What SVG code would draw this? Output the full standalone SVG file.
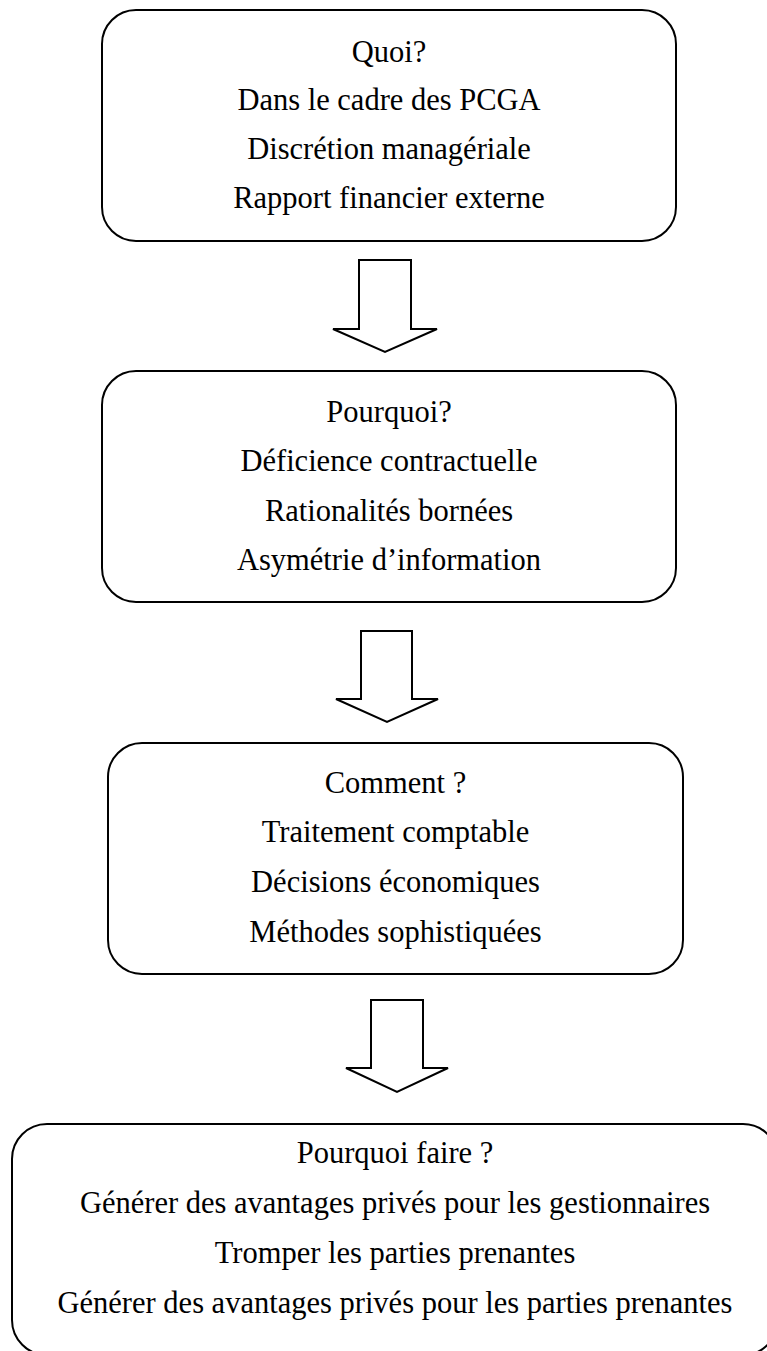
<svg xmlns="http://www.w3.org/2000/svg" width="767" height="1351" viewBox="0 0 767 1351">
  <style>
    .box { fill: #ffffff; stroke: #000000; stroke-width: 2; }
    .arrow { fill: #ffffff; stroke: #000000; stroke-width: 2; stroke-linejoin: miter; }
    .label { font-family: "Liberation Serif", "Times New Roman", serif; font-size: 30.5px; fill: #000000; text-anchor: middle; }
  </style>
  <rect x="0" y="0" width="767" height="1351" fill="#ffffff"/>

  <g id="node-quoi">
    <rect class="box" x="102" y="10" width="574" height="231" rx="34" ry="34"/>
    <text class="label" x="389" y="62">Quoi?</text>
    <text class="label" x="389" y="110">Dans le cadre des PCGA</text>
    <text class="label" x="389" y="159">Discrétion managériale</text>
    <text class="label" x="389" y="208">Rapport financier externe</text>
  </g>

  <g id="node-pourquoi">
    <rect class="box" x="102" y="371" width="574" height="231" rx="34" ry="34"/>
    <text class="label" x="389" y="422">Pourquoi?</text>
    <text class="label" x="389" y="471">Déficience contractuelle</text>
    <text class="label" x="389" y="521">Rationalités bornées</text>
    <text class="label" x="389" y="570">Asymétrie d’information</text>
  </g>

  <g id="node-comment">
    <rect class="box" x="108" y="743" width="575" height="231" rx="34" ry="34"/>
    <text class="label" x="395.5" y="793">Comment ?</text>
    <text class="label" x="395.5" y="842">Traitement comptable</text>
    <text class="label" x="395.5" y="892">Décisions économiques</text>
    <text class="label" x="395.5" y="942">Méthodes sophistiquées</text>
  </g>

  <g id="node-pourquoi-faire">
    <rect class="box" x="12" y="1124" width="766" height="231" rx="35" ry="35"/>
    <text class="label" x="395" y="1163">Pourquoi faire ?</text>
    <text class="label" x="395" y="1213">Générer des avantages privés pour les gestionnaires</text>
    <text class="label" x="395" y="1263">Tromper les parties prenantes</text>
    <text class="label" x="395" y="1313">Générer des avantages privés pour les parties prenantes</text>
  </g>

  <g id="connectors">
    <polygon class="arrow" points="359,260 411,260 411,329 437,329 385,352 333,329 359,329"/>
    <polygon class="arrow" points="361,631 412,631 412,699 438,699 387,722 336,699 361,699"/>
    <polygon class="arrow" points="371,1000 423,1000 423,1068 448,1068 397,1092 346,1068 371,1068"/>
  </g>
</svg>
